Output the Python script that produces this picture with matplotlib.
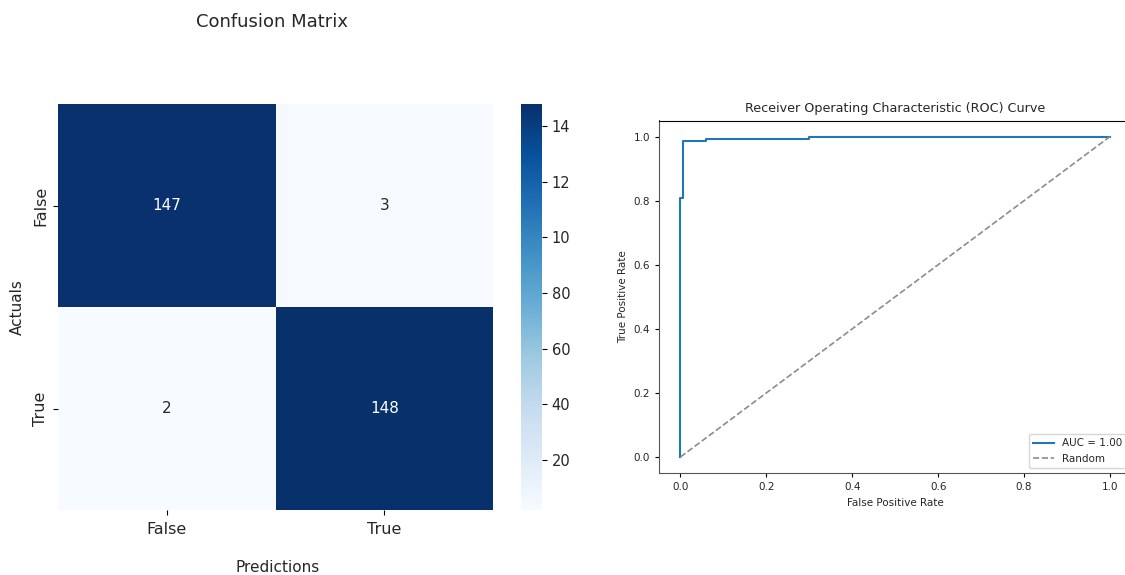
import numpy as np
import matplotlib
matplotlib.use("Agg")
import matplotlib.pyplot as plt
import seaborn as sns
from matplotlib.transforms import Bbox

# Confusion matrix counts (rows: actual, cols: predicted)
class_labels = ["False", "True"]
cm_counts = [[147, 3],
             [2, 148]]

# ROC curve points
roc_fpr = [0.0, 0.0, 0.0067, 0.0067, 0.06, 0.06, 0.30, 0.30, 1.0]
roc_tpr = [0.0, 0.807, 0.807, 0.987, 0.987, 0.993, 0.993, 1.0, 1.0]

W, H = 1125, 575
fig = plt.figure(figsize=(W / 100, H / 100), dpi=100)
TXT = "#262626"


def frac(x0, y0, x1, y1):
    """Axes rect from pixel box (top-left origin)."""
    return [x0 / W, 1 - y1 / H, (x1 - x0) / W, (y1 - y0) / H]


# ---- Confusion matrix heatmap ----
ax_cm = fig.add_axes(frac(58, 104, 493, 510))
ax_cb = fig.add_axes(frac(521, 104, 542, 510))
cm = np.array(cm_counts)
sns.heatmap(cm, annot=True, fmt="d", cmap="Blues", ax=ax_cm, cbar_ax=ax_cb,
            xticklabels=class_labels, yticklabels=class_labels,
            annot_kws={"fontsize": 11})
ax_cm.tick_params(axis="both", labelsize=11.5, labelcolor=TXT)
plt.setp(ax_cm.get_yticklabels(), rotation=90, va="center")
plt.setp(ax_cm.get_xticklabels(), va="top")
ax_cm.tick_params(axis="x", pad=5)
ax_cb.tick_params(labelsize=10.5, labelcolor=TXT)
ax_cb.set_yticks([20, 40, 60, 80, 100, 120, 140])

fig.text(272 / W, 1 - 22 / H, "Confusion Matrix", ha="center", va="center",
         fontsize=13, color=TXT)
fig.text(278 / W, 1 - 567 / H, "Predictions", ha="center", va="center",
         fontsize=11, color=TXT)
fig.text(17 / W, 1 - 307 / H, "Actuals", ha="center", va="center",
         rotation=90, fontsize=11, color=TXT)

# ---- ROC curve ----
ax_roc = fig.add_axes(frac(659, 120.5, 1131.5, 473))
auc = np.trapezoid(roc_tpr, roc_fpr)
ax_roc.plot(roc_fpr, roc_tpr, color="#1f77b4", lw=1.5, label=f"AUC = {auc:.2f}")
ax_roc.plot([0, 1], [0, 1], "--", color="#8c8c8c", lw=1.2, label="Random")
ax_roc.set_xlim(-0.05, 1.05)
ax_roc.set_ylim(-0.05, 1.05)
ax_roc.set_xticks([0, 0.2, 0.4, 0.6, 0.8, 1.0])
ax_roc.set_yticks([0, 0.2, 0.4, 0.6, 0.8, 1.0])
ax_roc.tick_params(labelsize=7.5, length=3, labelcolor=TXT)
for side in ("left", "bottom"):
    ax_roc.spines[side].set_color("#555555")
ax_roc.set_title("Receiver Operating Characteristic (ROC) Curve", fontsize=9.2,
                 color=TXT)
ax_roc.set_xlabel("False Positive Rate", fontsize=7.5, color=TXT)
ax_roc.set_ylabel("True Positive Rate", fontsize=7.5, color=TXT)
ax_roc.legend(loc="lower right", fontsize=7.5, labelcolor=TXT)

# Colorbar labels are cut at the edge of the left panel
fig.canvas.draw()
clip = Bbox.from_extents(0, 0, 570, H)
for t in ax_cb.get_yticklabels():
    t.set_clip_box(clip)
    t.set_clip_on(True)

fig.savefig("out.png", dpi=100)
